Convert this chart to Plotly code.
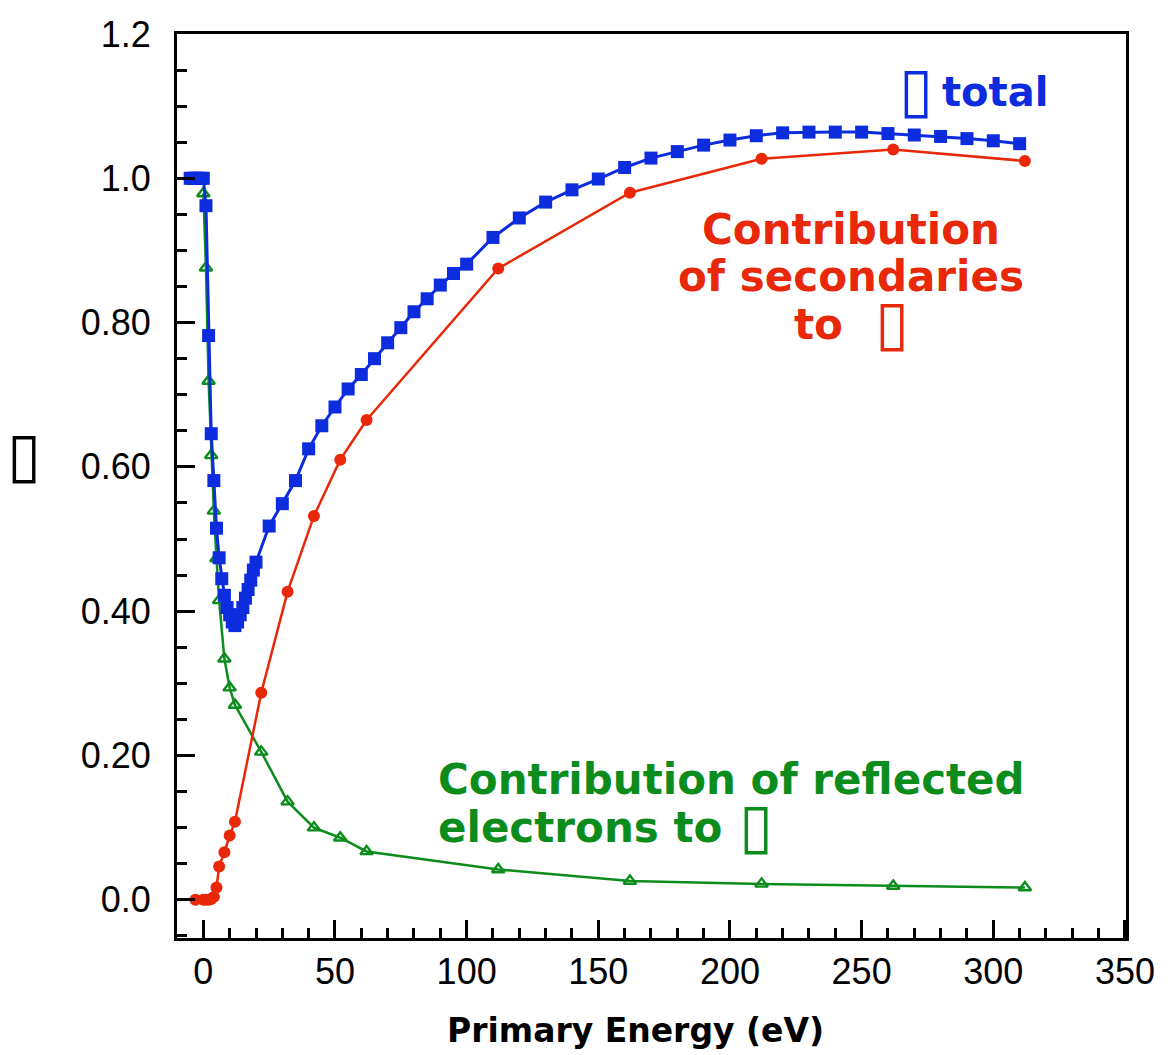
import plotly.graph_objects as go

# ---- data ----
E_total = [-5, -4, -3, -2, -1, 0, 1, 2, 3, 4, 5, 6, 7, 8, 9, 10, 11, 12, 13, 14, 15, 16, 17, 18, 19, 20,
           25, 30, 35, 40, 45, 50, 55, 60, 65, 70, 75, 80, 85, 90, 95, 100,
           110, 120, 130, 140, 150, 160, 170, 180, 190, 200, 210, 220, 230, 240, 250, 260, 270, 280, 290, 300, 310]
d_total = [1.0, 1.0, 1.0, 1.0, 1.0, 1.0, 0.962, 0.782, 0.646, 0.581, 0.515, 0.474, 0.445, 0.422, 0.405, 0.395,
           0.385, 0.38, 0.385, 0.395, 0.405, 0.418, 0.43, 0.443, 0.457, 0.468,
           0.518, 0.549, 0.581, 0.625, 0.657, 0.683, 0.708, 0.728, 0.750, 0.772, 0.793, 0.815, 0.833, 0.852, 0.868, 0.881,
           0.918, 0.945, 0.967, 0.984, 0.999, 1.015, 1.028, 1.037, 1.046, 1.053, 1.059, 1.063, 1.064, 1.064, 1.064,
           1.062, 1.060, 1.058, 1.055, 1.052, 1.048]

E_sec = [-3, 0, 1, 2, 3, 4, 5, 6, 8, 10, 12, 22, 32, 42, 52, 62, 112, 162, 212, 262, 312]
d_sec = [0.0, 0.0, 0.0, 0.0, 0.001, 0.004, 0.017, 0.046, 0.066, 0.089, 0.108, 0.287, 0.427, 0.532, 0.61, 0.665,
         0.875, 0.98, 1.027, 1.04, 1.024]

E_refl = [0, 1, 2, 3, 4, 5, 6, 8, 10, 12, 22, 32, 42, 52, 62, 112, 162, 212, 262, 312]
d_refl = [0.979, 0.876, 0.719, 0.616, 0.539, 0.473, 0.415, 0.334, 0.294, 0.27, 0.205, 0.136, 0.1, 0.086, 0.067,
          0.042, 0.026, 0.022, 0.019, 0.017]

y_tickvals = [0, 0.2, 0.4, 0.6, 0.8, 1.0, 1.2]
y_ticktext = ["0.0", "0.20", "0.40", "0.60", "0.80", "1.0", "1.2"]
x_tickvals = [0, 50, 100, 150, 200, 250, 300, 350]

BLUE = "rgb(12,44,222)"
RED = "rgb(232,40,8)"
GREEN = "rgb(12,140,28)"
BOX = "\u25AF"

fig = go.Figure()
fig.add_trace(go.Scatter(x=E_refl, y=d_refl, mode="lines+markers",
                         line=dict(color=GREEN, width=2.5),
                         marker=dict(symbol="triangle-up-open", size=11, color=GREEN, line=dict(width=2.4, color=GREEN))))
fig.add_trace(go.Scatter(x=E_sec, y=d_sec, mode="lines+markers",
                         line=dict(color=RED, width=2.5),
                         marker=dict(symbol="circle", size=12, color=RED)))
fig.add_trace(go.Scatter(x=E_total, y=d_total, mode="lines+markers",
                         line=dict(color=BLUE, width=3),
                         marker=dict(symbol="square", size=13, color=BLUE)))

# pixel -> data helpers for text placement only
def px_x(p):
    return (p - 201.7) / 2.644

def px_y(p):
    return (898 - p) / 721.5

bold = dict(family="DejaVu Sans", size=42, weight="bold")
boxfont = dict(family="DejaVu Sans", size=62)
ann = []
# delta total
ann.append(dict(x=px_x(1052), y=px_y(90), xanchor="right", yanchor="middle",
                text="total", showarrow=False, font=dict(family="DejaVu Sans", size=40, weight="bold", color=BLUE)))
ann.append(dict(x=px_x(917), y=px_y(88), xanchor="center", yanchor="middle",
                text=BOX, showarrow=False, font=dict(**boxfont, color=BLUE)))
# secondaries
for txt, yy in [("Contribution", 228), ("of secondaries", 275)]:
    ann.append(dict(x=px_x(852), y=px_y(yy), xanchor="center", yanchor="middle",
                    text=txt, showarrow=False, font=dict(**bold, color=RED)))
ann.append(dict(x=px_x(846), y=px_y(323), xanchor="right", yanchor="middle",
                text="to", showarrow=False, font=dict(**bold, color=RED)))
ann.append(dict(x=px_x(893), y=px_y(321), xanchor="center", yanchor="middle",
                text=BOX, showarrow=False, font=dict(**boxfont, color=RED)))
# reflected
ann.append(dict(x=px_x(435), y=px_y(778), xanchor="left", yanchor="middle",
                text="Contribution of reflected", showarrow=False, font=dict(**bold, color=GREEN)))
ann.append(dict(x=px_x(435), y=px_y(826), xanchor="left", yanchor="middle",
                text="electrons to", showarrow=False, font=dict(**bold, color=GREEN)))
ann.append(dict(x=px_x(757), y=px_y(824), xanchor="center", yanchor="middle",
                text=BOX, showarrow=False, font=dict(**boxfont, color=GREEN)))
# y-axis title
ann.append(dict(x=(22 - 175) / 952, y=px_y(453), xref="paper", yref="y", xanchor="center", yanchor="middle",
                text=BOX, showarrow=False, font=dict(**boxfont, color="black")))
# x-axis title
ann.append(dict(x=(635 - 175) / 952, y=(936 - 1028) / 904, xref="paper", yref="paper",
                xanchor="center", yanchor="middle", text="Primary Energy (eV)", showarrow=False,
                font=dict(family="DejaVu Sans", size=33, weight="bold", color="black")))
for a in ann:
    a.setdefault("xref", "x")
    a.setdefault("yref", "y")
fig.update_layout(annotations=ann)

fig.update_layout(
    width=1171, height=1055,
    margin=dict(l=169, r=53, t=26, b=125, autoexpand=False),
    paper_bgcolor="white", plot_bgcolor="white",
    showlegend=False,
    font=dict(family="Liberation Sans", color="black"),
)
fig.update_xaxes(range=[-10, 350.4], tickvals=x_tickvals, ticks="inside", ticklen=18, tickwidth=2.5,
                 tickcolor="black", showline=True, linecolor="black", linewidth=3, mirror=True,
                 showgrid=False, zeroline=False, ticklabelstandoff=0, automargin=False,
                 tickfont=dict(family="Liberation Sans", size=36),
                 minor=dict(dtick=10, ticks="inside", ticklen=10, tickwidth=2.5, tickcolor="black", showgrid=False))
fig.update_yaxes(range=[-0.053, 1.2], tickvals=y_tickvals, ticktext=y_ticktext, ticks="inside", ticklen=18,
                 tickwidth=2.5, tickcolor="black", showline=True, linecolor="black", linewidth=3, mirror=True,
                 showgrid=False, zeroline=False, ticklabelstandoff=16, automargin=False,
                 tickfont=dict(family="Liberation Sans", size=36),
                 minor=dict(dtick=0.05, tick0=0, ticks="inside", ticklen=10, tickwidth=2.5, tickcolor="black", showgrid=False))

fig.write_html("out.html")
